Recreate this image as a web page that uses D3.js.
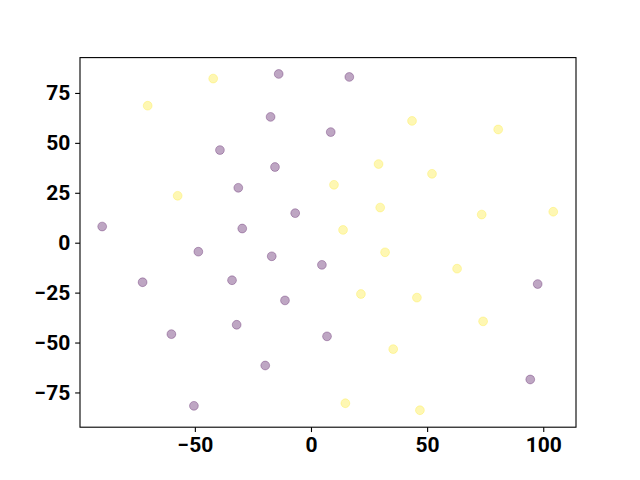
<!DOCTYPE html>
<html>
<head>
<meta charset="utf-8">
<script src="https://cdn.jsdelivr.net/npm/d3@7"></script>
<style>
  html, body { margin: 0; padding: 0; background: #fff; }
  svg { display: block; }
</style>
</head>
<body>
<script>
// Group A (dark purple) points
const purpleX = [-13.9, -17.4, -39.2, -15.5, -31.3, -6.8, -89.9, -29.6, 16.5, 8.5,
                 -48.5, -16.9, 4.7, -72.5, -34.0, -11.2, -32.0, -60.1, -19.7, -50.4,
                 97.6, 6.9, 94.4];
const purpleY = [84.5, 63.0, 46.4, 37.9, 27.5, 14.8, 8.1, 7.1, 83.0, 55.4,
                 -4.5, -6.8, -11.1, -19.8, -18.8, -28.9, -41.1, -45.8, -61.5, -81.7,
                 -20.7, -46.9, -68.5];
// Group B (yellow) points
const yellowX = [-42.1, -70.3, -57.4, 43.5, 80.6, 29.1, 52.1, 9.9, 29.8, 73.5,
                 104.3, 13.8, 31.9, 62.9, 21.5, 45.6, 74.1, 35.4, 14.8, 46.9];
const yellowY = [82.2, 68.6, 23.5, 61.0, 56.7, 39.4, 34.5, 29.0, 17.6, 14.1,
                 15.5, 6.4, -4.8, -13.0, -25.7, -27.5, -39.4, -53.3, -80.4, -83.9];
const xTicks = [-50, 0, 50, 100];
const yTicks = [-75, -50, -25, 0, 25, 50, 75];
const xDomain = [-99.45, 114.1];
const yDomain = [-92.4, 92.7];

(function () {
const W = 640, H = 480;
const mLeft = 80, mRight = 576, mTop = 57.6, mBottom = 427.2;

const svg = d3.select("body").append("svg").attr("width", W).attr("height", H);

const x = d3.scaleLinear().domain(xDomain).range([mLeft, mRight]);
const y = d3.scaleLinear().domain(yDomain).range([mBottom, mTop]);

const pts = [];
purpleX.forEach((v, i) => pts.push({x: v, y: purpleY[i], c: "#440154"}));
yellowX.forEach((v, i) => pts.push({x: v, y: yellowY[i], c: "#fde725"}));

svg.append("g").selectAll("circle").data(pts).join("circle")
  .attr("cx", d => x(d.x)).attr("cy", d => y(d.y))
  .attr("r", 4.4)
  .attr("fill", d => d.c).attr("fill-opacity", 0.35)
  .attr("stroke", d => d.c).attr("stroke-opacity", 0.3)
  .attr("stroke-width", 1.0);

const fmt = d3.format("");
const xAxis = svg.append("g").attr("transform", `translate(0,${mBottom})`)
  .call(d3.axisBottom(x).tickValues(xTicks).tickFormat(fmt).tickSize(4.86).tickPadding(4.86).tickSizeOuter(0));
const yAxis = svg.append("g").attr("transform", `translate(${mLeft},0)`)
  .call(d3.axisLeft(y).tickValues(yTicks).tickFormat(fmt).tickSize(4.86).tickPadding(4.86).tickSizeOuter(0));

[xAxis, yAxis].forEach(g => {
  g.select(".domain").remove();
  g.selectAll(".tick line").attr("stroke", "#000").attr("stroke-width", 1.1);
  g.selectAll(".tick text")
    .attr("fill", "#000")
    .style("font-family", "Roboto, 'DejaVu Sans', sans-serif")
    .style("font-weight", "bold")
    .style("font-size", "21px");
});

svg.append("rect")
  .attr("x", mLeft).attr("y", mTop)
  .attr("width", mRight - mLeft).attr("height", mBottom - mTop)
  .attr("fill", "none").attr("stroke", "#000").attr("stroke-width", 1.1);
})();
</script>
</body>
</html>
